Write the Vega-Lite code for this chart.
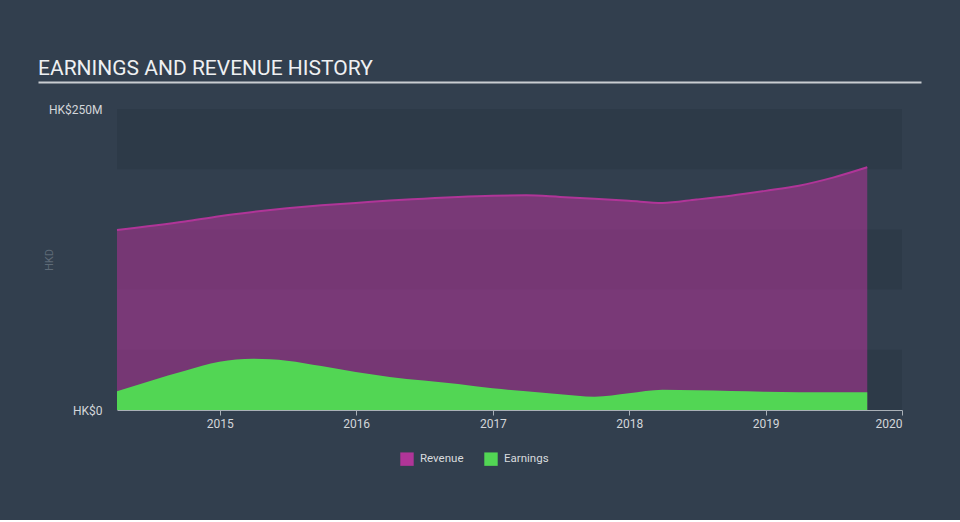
{
  "$schema": "https://vega.github.io/schema/vega-lite/v6.json",
  "background": "#323f4e",
  "padding": {"left": 38, "top": 58, "right": 39, "bottom": 54},
  "config": {
    "font": "Roboto",
    "view": {"stroke": null},
    "title": {"color": "#eef0f2", "fontSize": 21, "fontWeight": "normal", "anchor": "start", "font": "Roboto"},
    "axis": {"labelColor": "#d2d6da", "labelFontSize": 12, "labelFont": "Roboto", "titleFont": "Roboto"},
    "legend": {"labelColor": "#d8dbde", "labelFontSize": 11.5, "labelFont": "Roboto"}
  },
  "datasets": {
    "hist": [
      {"date": "2014-04-01", "series": "Revenue", "value": 149.5},
      {"date": "2014-09-30", "series": "Revenue", "value": 156.5},
      {"date": "2014-12-31", "series": "Revenue", "value": 161},
      {"date": "2015-03-31", "series": "Revenue", "value": 164.5},
      {"date": "2015-06-30", "series": "Revenue", "value": 167.5},
      {"date": "2015-09-30", "series": "Revenue", "value": 170},
      {"date": "2015-12-31", "series": "Revenue", "value": 172},
      {"date": "2016-03-31", "series": "Revenue", "value": 174},
      {"date": "2016-06-30", "series": "Revenue", "value": 175.5},
      {"date": "2016-09-30", "series": "Revenue", "value": 177},
      {"date": "2016-12-31", "series": "Revenue", "value": 178},
      {"date": "2017-03-31", "series": "Revenue", "value": 178.3},
      {"date": "2017-06-30", "series": "Revenue", "value": 177},
      {"date": "2017-09-30", "series": "Revenue", "value": 175.5},
      {"date": "2017-12-31", "series": "Revenue", "value": 173.8},
      {"date": "2018-03-31", "series": "Revenue", "value": 172},
      {"date": "2018-06-30", "series": "Revenue", "value": 174.8},
      {"date": "2018-09-30", "series": "Revenue", "value": 178},
      {"date": "2018-12-31", "series": "Revenue", "value": 182},
      {"date": "2019-03-31", "series": "Revenue", "value": 186.3},
      {"date": "2019-06-30", "series": "Revenue", "value": 193},
      {"date": "2019-09-30", "series": "Revenue", "value": 201.6},
      {"date": "2014-04-01", "series": "Earnings", "value": 15.5},
      {"date": "2014-09-30", "series": "Earnings", "value": 32.5},
      {"date": "2014-12-31", "series": "Earnings", "value": 40},
      {"date": "2015-03-31", "series": "Earnings", "value": 42.5},
      {"date": "2015-06-30", "series": "Earnings", "value": 41},
      {"date": "2015-09-30", "series": "Earnings", "value": 36.5},
      {"date": "2015-12-31", "series": "Earnings", "value": 31.5},
      {"date": "2016-03-31", "series": "Earnings", "value": 27.5},
      {"date": "2016-06-30", "series": "Earnings", "value": 24.5},
      {"date": "2016-09-30", "series": "Earnings", "value": 21.5},
      {"date": "2016-12-31", "series": "Earnings", "value": 18},
      {"date": "2017-03-31", "series": "Earnings", "value": 15.5},
      {"date": "2017-06-30", "series": "Earnings", "value": 13},
      {"date": "2017-09-30", "series": "Earnings", "value": 11},
      {"date": "2017-12-31", "series": "Earnings", "value": 13.9},
      {"date": "2018-03-31", "series": "Earnings", "value": 16.9},
      {"date": "2018-06-30", "series": "Earnings", "value": 16.4},
      {"date": "2018-09-30", "series": "Earnings", "value": 15.8},
      {"date": "2018-12-31", "series": "Earnings", "value": 15.2},
      {"date": "2019-03-31", "series": "Earnings", "value": 14.8},
      {"date": "2019-06-30", "series": "Earnings", "value": 14.7},
      {"date": "2019-09-30", "series": "Earnings", "value": 14.7}
    ],
    "bands": [
      {"lo": 0, "hi": 50},
      {"lo": 100, "hi": 150},
      {"lo": 200, "hi": 250}
    ]
  },
  "spacing": 21,
  "vconcat": [
    {
      "width": 785,
      "height": 1,
      "title": {"text": "EARNINGS AND REVENUE HISTORY", "offset": 2},
      "data": {"values": [{"k": 0}, {"k": 1}]},
      "mark": {"type": "point", "opacity": 0, "size": 0},
      "encoding": {
        "x": {"field": "k", "type": "quantitative",
          "scale": {"domain": [0, 1], "range": [-79, 804], "nice": false, "zero": false},
          "axis": {"title": null, "labels": false, "ticks": false, "grid": false, "domainColor": "#c9cdd1", "domainWidth": 2, "orient": "bottom"}}
      }
    },
    {
      "width": 785,
      "height": 301,
      "layer": [
        {
          "data": {"name": "bands"},
          "mark": {"type": "rect", "color": "#2d3a48"},
          "encoding": {
            "y": {"field": "lo", "type": "quantitative", "scale": {"domain": [0, 250], "nice": false},
              "axis": {"values": [0, 250], "labelExpr": "datum.value == 0 ? 'HK$0' : 'HK$' + datum.value + 'M'", "domain": false, "ticks": false, "grid": false, "labelPadding": 15, "title": "HKD", "titleColor": "#5e6a77", "titleFontSize": 11, "titleFontWeight": "normal", "titlePadding": -6}},
            "y2": {"field": "hi"}
          }
        },
        {
          "data": {"name": "hist"},
          "transform": [{"filter": "datum.series == 'Revenue'"}],
          "mark": {"type": "area", "interpolate": "monotone", "fillOpacity": 0.56, "line": {"strokeWidth": 2}},
          "encoding": {
            "x": {"field": "date", "type": "temporal",
              "scale": {"domain": ["2014-04-01", "2020-01-01"], "nice": false},
              "axis": {"tickCount": {"interval": "year", "step": 1}, "format": "%Y", "grid": false, "domainColor": "#a9b0b7", "tickColor": "#a9b0b7", "tickSize": 5, "labelPadding": 3, "title": null}},
            "y": {"field": "value", "type": "quantitative", "stack": null},
            "color": {"field": "series", "type": "nominal",
              "scale": {"domain": ["Revenue", "Earnings"], "range": ["#b03598", "#52d654"]},
              "legend": {"orient": "none", "legendX": 283, "legendY": 371, "direction": "horizontal", "title": null, "symbolType": "square", "symbolSize": 180, "symbolOpacity": 1, "symbolStrokeWidth": 0, "columnPadding": 20, "labelOffset": 6}}
          }
        },
        {
          "data": {"name": "hist"},
          "transform": [{"filter": "datum.series == 'Earnings'"}],
          "mark": {"type": "area", "interpolate": "monotone", "opacity": 1},
          "encoding": {
            "x": {"field": "date", "type": "temporal"},
            "y": {"field": "value", "type": "quantitative", "stack": null},
            "color": {"field": "series", "type": "nominal"}
          }
        }
      ]
    }
  ]
}
